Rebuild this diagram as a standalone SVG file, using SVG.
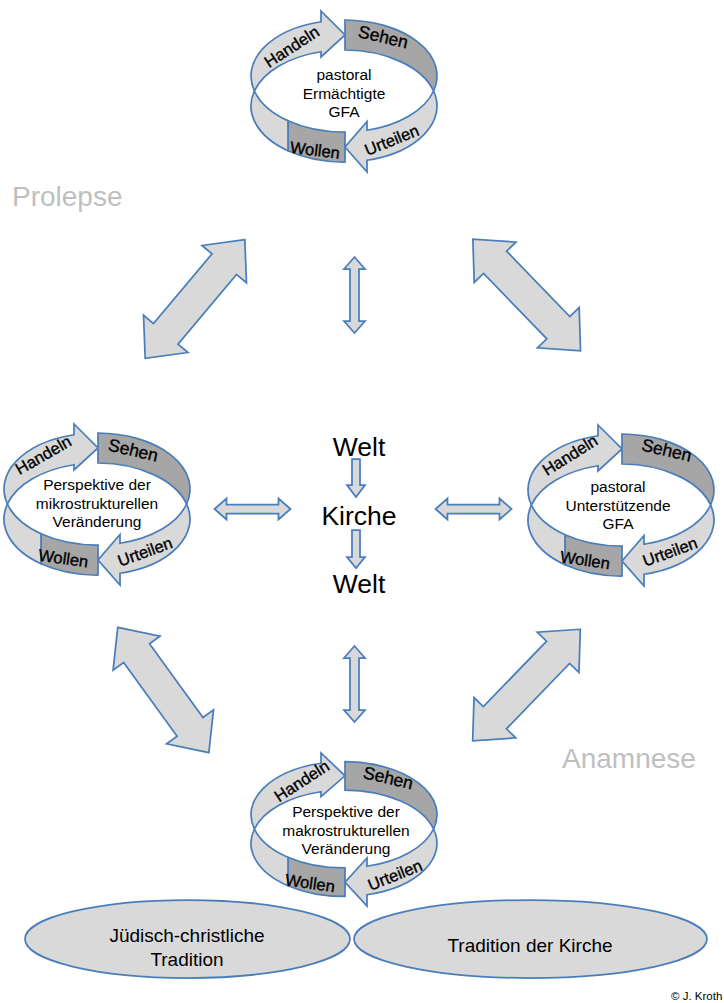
<svg xmlns="http://www.w3.org/2000/svg" xmlns:xlink="http://www.w3.org/1999/xlink" width="724" height="1003" viewBox="0 0 724 1003">
<style>
  .lt{fill:#d9d9d9;stroke:#4a7ebb;stroke-width:1.75;stroke-linejoin:miter}
  .dk{fill:#a6a6a6;stroke:#4a7ebb;stroke-width:1.75;stroke-linejoin:miter}
  .arr{fill:#d9d9d9;stroke:#4a7ebb;stroke-width:1.75;stroke-linejoin:miter}
  text{font-family:"Liberation Sans",Arial,sans-serif;fill:#000}
  .lbl{font-size:16.5px;text-anchor:middle;stroke:#000;stroke-width:0.35}
  .lbl.s{font-size:17.5px}
  .ctr{font-size:15.5px;text-anchor:middle}
  .big{font-size:26.5px;text-anchor:middle}
  .side{font-size:28px;fill:#bfbfbf}
  .ell{font-size:19px;text-anchor:middle}
  .copy{font-size:11.5px}
</style>
<defs>
  <g id="ring">
    <path class="lt" d="M -89.6,0 A 93,56 0 0,1 -23,-69.26 L -23,-80 L 1,-56 L -23,-34 L -23,-39.26 A 93,56 0 0,0 -89.6,0 Z"/>
    <path class="dk" d="M 1,-71 A 93,56 0 0,1 89.6,0 A 93,56 0 0,0 1,-41 Z"/>
    <path class="lt" d="M 89.6,0 A 93,56 0 0,1 23,69.26 L 23,81 L 1,56 L 23,30.5 L 23,39.26 A 93,56 0 0,0 89.6,0 Z"/>
    <path class="dk" d="M 1,71 A 93,56 0 0,1 -56,59.71 L -56,29.71 A 93,56 0 0,0 1,41 Z"/>
    <path class="lt" d="M -56,59.71 A 93,56 0 0,1 -89.6,0 A 93,56 0 0,0 -56,29.71 Z"/>
  </g>
  <path id="bigArrow" class="arr" d="M77.5,0 L45.5,-29 L45.5,-16 L-45.5,-16 L-45.5,-29 L-77.5,0 L-45.5,29 L-45.5,16 L45.5,16 L45.5,29 Z"/>
  <path id="smallArrow" class="arr" d="M38,0 L26,-10.5 L26,-4.5 L-26,-4.5 L-26,-10.5 L-38,0 L-26,10.5 L-26,4.5 L26,4.5 L26,10.5 Z"/>
</defs>
<rect width="724" height="1003" fill="#ffffff"/>

<g id="connectors">
  <use xlink:href="#bigArrow" href="#bigArrow" transform="translate(195,299) rotate(-50)"/>
  <use xlink:href="#bigArrow" href="#bigArrow" transform="translate(526.7,295) rotate(46)"/>
  <use xlink:href="#bigArrow" href="#bigArrow" transform="translate(163.3,690) rotate(54)"/>
  <use xlink:href="#bigArrow" href="#bigArrow" transform="translate(526.5,685) rotate(-46)"/>
  <use xlink:href="#smallArrow" href="#smallArrow" transform="translate(354.5,295) rotate(90)"/>
  <use xlink:href="#smallArrow" href="#smallArrow" transform="translate(354.5,684) rotate(90)"/>
  <use xlink:href="#smallArrow" href="#smallArrow" transform="translate(252.5,509)"/>
  <use xlink:href="#smallArrow" href="#smallArrow" transform="translate(473.5,509)"/>
  <path class="arr" d="M 352,459 L 360,459 L 360,485 L 365,485 L 356,497 L 347,485 L 352,485 Z"/>
  <path class="arr" d="M 352,530 L 360,530 L 360,557 L 365,557 L 356,568 L 347,557 L 352,557 Z"/>
</g>

<g id="cycle-top" transform="translate(344,91)">
  <use xlink:href="#ring" href="#ring"/>
  <text class="lbl" transform="translate(-52.3,-44.3) rotate(-33)" dy="0.35em">Handeln</text>
  <text class="lbl s" transform="translate(39.3,-54.3) rotate(13)" dy="0.35em">Sehen</text>
  <text class="lbl" transform="translate(47.7,49) rotate(-22)" dy="0.35em">Urteilen</text>
  <text class="lbl" transform="translate(-29,59) rotate(7)" dy="0.35em">Wollen</text>
  <text class="ctr" x="0" y="-11">pastoral</text>
  <text class="ctr" x="0" y="7.5">Ermächtigte</text>
  <text class="ctr" x="0" y="26">GFA</text>
</g>

<g id="cycle-left" transform="translate(97,504)">
  <use xlink:href="#ring" href="#ring"/>
  <text class="lbl" transform="translate(-53.7,-49) rotate(-30)" dy="0.35em">Handeln</text>
  <text class="lbl s" transform="translate(36.3,-54) rotate(13)" dy="0.35em">Sehen</text>
  <text class="lbl" transform="translate(48,47.7) rotate(-20)" dy="0.35em">Urteilen</text>
  <text class="lbl" transform="translate(-33.7,54.3) rotate(8)" dy="0.35em">Wollen</text>
  <text class="ctr" x="0" y="-14">Perspektive der</text>
  <text class="ctr" x="0" y="4.5">mikrostrukturellen</text>
  <text class="ctr" x="0" y="23">Veränderung</text>
</g>

<g id="cycle-right" transform="translate(621,505)">
  <use xlink:href="#ring" href="#ring"/>
  <text class="lbl" transform="translate(-51,-50) rotate(-32)" dy="0.35em">Handeln</text>
  <text class="lbl s" transform="translate(45.7,-55) rotate(13)" dy="0.35em">Sehen</text>
  <text class="lbl" transform="translate(49,46.7) rotate(-20)" dy="0.35em">Urteilen</text>
  <text class="lbl" transform="translate(-36,55) rotate(8)" dy="0.35em">Wollen</text>
  <text class="ctr" x="-3" y="-13">pastoral</text>
  <text class="ctr" x="-3" y="5.5">Unterstützende</text>
  <text class="ctr" x="-3" y="24">GFA</text>
</g>

<g id="cycle-bottom" transform="translate(344,829)">
  <use xlink:href="#ring" href="#ring" transform="scale(1,0.95)"/>
  <text class="lbl" transform="translate(-42.3,-48) rotate(-33)" dy="0.35em">Handeln</text>
  <text class="lbl s" transform="translate(44.3,-51.3) rotate(13)" dy="0.35em">Sehen</text>
  <text class="lbl" transform="translate(51,46) rotate(-22)" dy="0.35em">Urteilen</text>
  <text class="lbl" transform="translate(-34,54) rotate(8)" dy="0.35em">Wollen</text>
  <text class="ctr" x="2" y="-12">Perspektive der</text>
  <text class="ctr" x="2" y="6.5">makrostrukturellen</text>
  <text class="ctr" x="2" y="25">Veränderung</text>
</g>

<g id="center">
  <text class="big" x="359" y="456">Welt</text>
  <text class="big" x="359" y="525">Kirche</text>
  <text class="big" x="359" y="593">Welt</text>
</g>

<g id="label-prolepse"><text class="side" x="12" y="206">Prolepse</text></g>
<g id="label-anamnese"><text class="side" x="562" y="768">Anamnese</text></g>

<g id="tradition-left">
  <ellipse class="lt" cx="187.5" cy="939" rx="162.5" ry="39"/>
  <text class="ell" x="187" y="942">Jüdisch-christliche</text>
  <text class="ell" x="187" y="966">Tradition</text>
</g>
<g id="tradition-right">
  <ellipse class="lt" cx="530.5" cy="939" rx="176.5" ry="39"/>
  <text class="ell" x="530" y="952">Tradition der Kirche</text>
</g>

<text class="copy" x="671" y="1000">© J. Kroth</text>
</svg>
